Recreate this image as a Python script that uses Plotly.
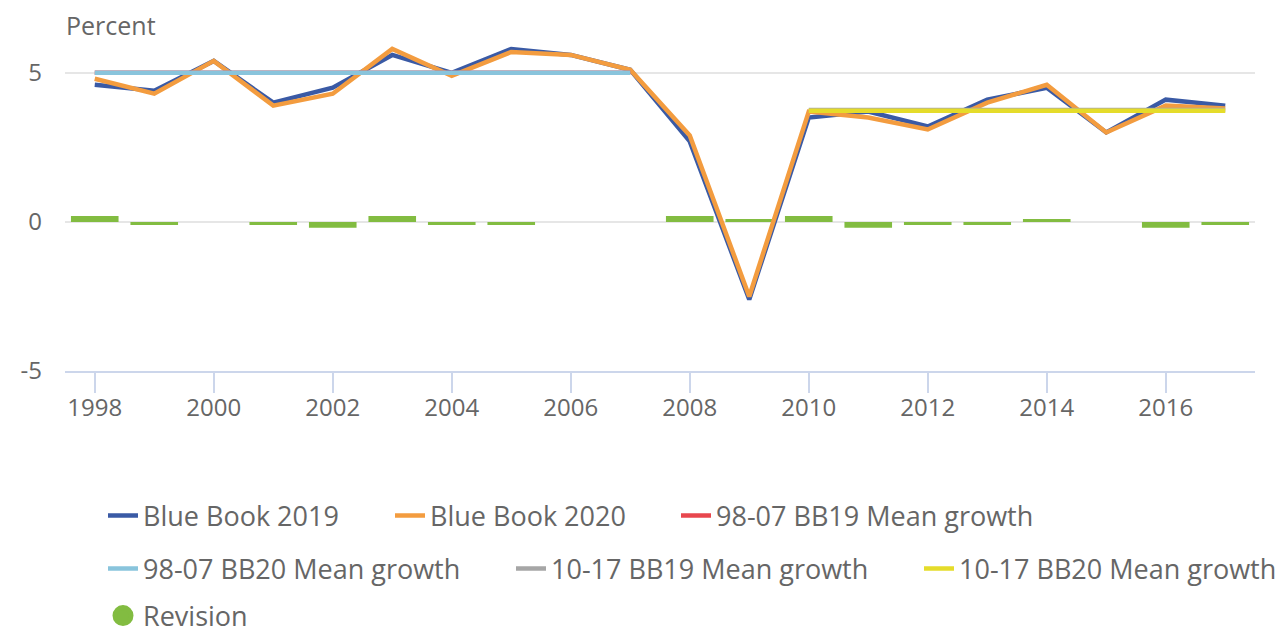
import plotly.graph_objects as go

years = list(range(1998, 2018))
bb2019 = [4.6, 4.4, 5.4, 4.0, 4.5, 5.6, 5.0, 5.8, 5.6, 5.1,
          2.7, -2.6, 3.5, 3.7, 3.2, 4.1, 4.5, 3.0, 4.1, 3.9]
bb2020 = [4.8, 4.3, 5.4, 3.9, 4.3, 5.8, 4.9, 5.7, 5.6, 5.1,
          2.9, -2.5, 3.7, 3.5, 3.1, 4.0, 4.6, 3.0, 3.9, 3.8]
revision = [0.2, -0.1, 0.0, -0.1, -0.2, 0.2, -0.1, -0.1, 0.0, 0.0,
            0.2, 0.1, 0.2, -0.2, -0.1, -0.1, 0.1, 0.0, -0.2, -0.1]

years_98_07 = list(range(1998, 2008))
mean_98_07_bb19 = [5.0] * 10
mean_98_07_bb20 = [5.0] * 10
years_10_17 = list(range(2010, 2018))
mean_10_17_bb19 = [3.75] * 8
mean_10_17_bb20 = [3.73] * 8

FONT = "Open Sans"
TXT = "#666666"

# plot area pixel geometry
L, R, T, B = 65, 1255, 43, 371
PW, PH = R - L, B - T


def lx(px):
    return (px - L) / PW


def ly(py):
    return (B - py) / PH


fig = go.Figure()

fig.add_trace(go.Bar(x=years, y=revision, width=0.8, name="Revision",
                     marker=dict(color="#82bc41", line=dict(width=0)),
                     showlegend=False))

fig.add_trace(go.Scatter(x=years, y=bb2019, mode="lines", name="Blue Book 2019",
                         line=dict(color="#3a5aa5", width=4.5), legend="legend"))
fig.add_trace(go.Scatter(x=years, y=bb2020, mode="lines", name="Blue Book 2020",
                         line=dict(color="#f39c3f", width=4.5), legend="legend2"))
fig.add_trace(go.Scatter(x=years_98_07, y=mean_98_07_bb19, mode="lines",
                         name="98-07 BB19 Mean growth",
                         line=dict(color="#e8474e", width=4.5), legend="legend3"))
fig.add_trace(go.Scatter(x=years_98_07, y=mean_98_07_bb20, mode="lines",
                         name="98-07 BB20 Mean growth",
                         line=dict(color="#89c4dc", width=4.5), legend="legend4"))
fig.add_trace(go.Scatter(x=years_10_17, y=mean_10_17_bb19, mode="lines",
                         name="10-17 BB19 Mean growth",
                         line=dict(color="#a6a6a6", width=4.5), legend="legend5"))
fig.add_trace(go.Scatter(x=years_10_17, y=mean_10_17_bb20, mode="lines",
                         name="10-17 BB20 Mean growth",
                         line=dict(color="#e5dc2a", width=4.5), legend="legend6"))
# legend entry for the revision bars (circle symbol)
fig.add_trace(go.Scatter(x=[None], y=[None], mode="markers", name="Revision",
                         marker=dict(color="#82bc41", size=16, symbol="circle",
                                     line=dict(color="#82bc41", width=5)),
                         legend="legend7"))

legend_font = dict(family=FONT, size=27, color=TXT)
pos = {
    "legend": (144, 516), "legend2": (431, 516), "legend3": (717, 516),
    "legend4": (144, 569), "legend5": (552, 569), "legend6": (960, 569),
    "legend7": (144, 616),
}
legends = {}
for k, (px, py) in pos.items():
    legends[k] = dict(x=lx(px - 41), y=ly(py), xanchor="left", yanchor="middle",
                      font=legend_font, bgcolor="rgba(0,0,0,0)",
                      orientation="h", itemclick=False)

fig.update_layout(
    width=1280, height=634,
    margin=dict(l=L, r=1280 - R, t=T, b=634 - B, autoexpand=False),
    paper_bgcolor="white", plot_bgcolor="white",
    font=dict(family=FONT, color=TXT, size=24),
    barmode="overlay",
    **legends,
    annotations=[dict(text="Percent", xref="paper", yref="paper",
                      x=lx(64), y=ly(25), xanchor="left", yanchor="middle",
                      showarrow=False, font=dict(family=FONT, size=25, color=TXT))],
)

fig.update_xaxes(range=[1997.5, 2017.5], tickvals=list(range(1998, 2018, 2)),
                 showgrid=False, showline=True, linecolor="#ccd6eb", linewidth=2,
                 ticks="outside", ticklen=20, tickcolor="#ccd6eb", tickwidth=2,
                 ticklabelstandoff=-6,
                 tickfont=dict(family=FONT, size=24, color=TXT), zeroline=False)
fig.update_yaxes(range=[-5, 6], tickvals=[-5, 0, 5], ticktext=["-5", "0", "5"],
                 showgrid=True, gridcolor="#e6e6e6", gridwidth=2, zeroline=False,
                 showline=False, ticks="", ticklabelstandoff=22,
                 tickfont=dict(family=FONT, size=24, color=TXT))

fig.write_html("out.html", config={"displayModeBar": False},
               post_script="document.body.style.margin='0';"
                           "document.body.style.overflow='hidden';")
